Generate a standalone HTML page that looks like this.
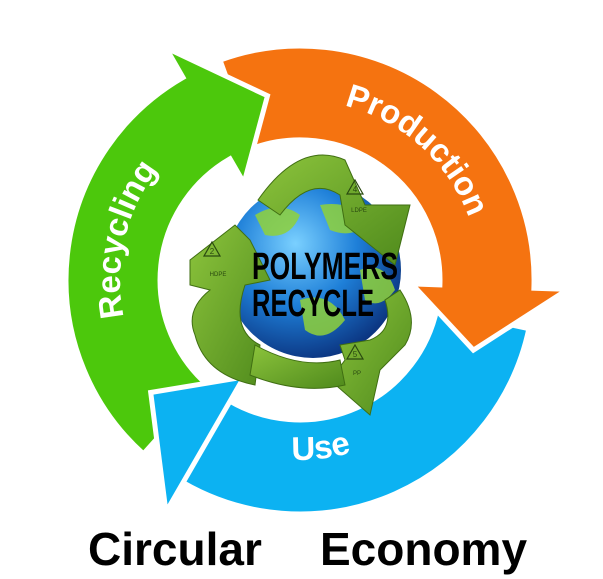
<!DOCTYPE html>
<html><head><meta charset="utf-8"><style>
html,body{margin:0;padding:0;background:#fff;width:603px;height:579px;overflow:hidden}
svg{display:block}
</style></head><body>
<svg id="s" width="603" height="579" viewBox="0 0 603 579" xmlns="http://www.w3.org/2000/svg">
<defs>
<radialGradient id="gl" cx="0.4" cy="0.35" r="0.7">
<stop offset="0" stop-color="#7ad0ff"/><stop offset="0.5" stop-color="#1e7fd8"/><stop offset="1" stop-color="#0a2f7a"/>
</radialGradient>
<linearGradient id="rb" x1="0" y1="0" x2="1" y2="1">
<stop offset="0" stop-color="#8cc43c"/><stop offset="1" stop-color="#4f8a1c"/>
</linearGradient>
<path id="pRec" d=""/>
<path id="pPro" d=""/>
<path id="pUse" d=""/>
</defs>
<g id="arrows"></g>
<circle cx="313" cy="270" r="88" fill="url(#gl)"/>
<path d="M255 215 Q280 200 300 215 Q290 240 265 235 Z M320 205 Q350 200 370 220 Q355 240 330 230 Z M300 300 Q330 290 345 320 Q325 345 305 330 Z M360 270 Q385 260 395 290 Q380 310 365 300 Z" fill="#8fd13a" opacity="0.85"/>
<g fill="url(#rb)" stroke="#3f6e12" stroke-width="1">
<path d="M258 200 Q300 140 345 160 L365 205 L410 205 L395 265 L345 225 L340 195 Q310 175 280 215 Z"/>
<path d="M190 260 L235 225 L250 240 L270 280 L245 285 Q230 330 260 345 L255 385 Q205 375 195 335 Q185 310 210 290 L190 285 Z"/>
<path d="M400 290 Q420 320 405 345 L380 370 L370 415 L330 380 L345 360 L340 345 L370 340 Q395 330 385 300 Z"/>
<path d="M255 345 Q300 370 340 360 L345 385 Q300 395 250 375 Z"/>
</g>
<g fill="none" stroke="#2a4a10" stroke-width="1.2">
<path d="M355 180 l8 14 h-16 z"/><path d="M212 242 l8 14 h-16 z"/><path d="M355 345 l8 14 h-16 z"/>
</g>
<g font-family="Liberation Sans, sans-serif" font-size="8" fill="#2a4a10" text-anchor="middle">
<text x="355" y="192">4</text><text x="359" y="212" font-size="6">LDPE</text>
<text x="212" y="254">2</text><text x="218" y="276" font-size="6">HDPE</text>
<text x="355" y="357">5</text><text x="357" y="375" font-size="6">PP</text>
</g>
<g font-family="Liberation Sans Narrow, Liberation Sans, sans-serif" font-weight="bold" fill="#000">
<text x="252" y="279" font-size="38" textLength="146" lengthAdjust="spacingAndGlyphs">POLYMERS</text>
<text x="252" y="316" font-size="38" textLength="122" lengthAdjust="spacingAndGlyphs">RECYCLE</text>
</g>
<g font-family="Liberation Sans, sans-serif" font-weight="bold" fill="#fff" font-size="33">
<text><textPath href="#pRec" startOffset="50%" text-anchor="middle">Recycling</textPath></text>
<text><textPath href="#pPro" startOffset="50%" text-anchor="middle">Production</textPath></text>
<text><textPath href="#pUse" startOffset="50%" text-anchor="middle">Use</textPath></text>
</g>
<text x="88" y="565" font-family="Liberation Sans, sans-serif" font-weight="bold" font-size="46" fill="#000">Circular</text>
<text x="320" y="565" font-family="Liberation Sans, sans-serif" font-weight="bold" font-size="46" fill="#000">Economy</text>
</svg>
<script>
var cx=300,cy=280,ri=140,ro=234,hi=112,ho=268;
function P(a,r){var t=a*Math.PI/180;return [(cx+r*Math.cos(t)).toFixed(1),(cy+r*Math.sin(t)).toFixed(1)];}
function arrow(a0,a1,a2,col,headOnly){
 var o0=P(a0,ro),o1=P(a1,ro),i1=P(a1,ri),i0=P(a0,ri),h1=P(a1,ho),h2=P(a1,hi),tip=P(a2,(ri+ro)/2);
 var sw=(a1-a0)>180?1:0;
 var d;
 if(headOnly){d='M'+h1+' L'+tip+' L'+h2+' Z';}
 else d='M'+o0+' A'+ro+' '+ro+' 0 '+sw+' 1 '+o1+' L'+h1+' L'+tip+' L'+h2+' L'+i1+' A'+ri+' '+ri+' 0 '+sw+' 0 '+i0+' Z';
 return '<path d="'+d+'" fill="'+col+'" stroke="#fff" stroke-width="5" stroke-linejoin="miter"/>';
}
function arc(a0,a1,r,ccw){var p=P(a0,r),q=P(a1,r);return 'M'+p+' A'+r+' '+r+' 0 0 '+(ccw?0:1)+' '+q;}
document.getElementById('arrows').innerHTML=
 arrow(12,120,143,'#0cb2f2')+arrow(250,362,382,'#f57310')+arrow(132,240,260,'#4cc80c')+arrow(12,120,143,'#0cb2f2',true);
document.getElementById('pRec').setAttribute('d',arc(148,238,180,false));
document.getElementById('pPro').setAttribute('d',arc(262,362,180,false));
document.getElementById('pUse').setAttribute('d',arc(118,48,180,true));
</script>
</body></html>
